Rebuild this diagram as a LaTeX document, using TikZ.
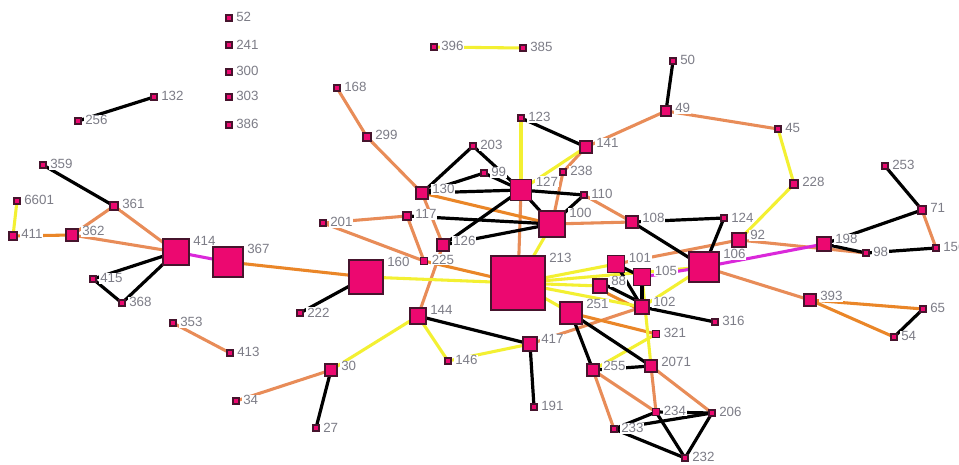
\documentclass[tikz,border=0pt]{standalone}
\usepackage{fontspec}
\setmainfont{Liberation Sans}
\pgfdeclarelayer{back}
\pgfdeclarelayer{bg}
\pgfsetlayers{back,bg,main}
\definecolor{pk}{RGB}{236,8,112}
\definecolor{bd}{RGB}{70,20,45}
\definecolor{cY}{RGB}{243,240,50}
\definecolor{cO}{RGB}{232,140,88}
\definecolor{cD}{RGB}{234,134,40}
\definecolor{cM}{RGB}{218,40,218}
\definecolor{tx}{RGB}{125,125,135}
\begin{document}
\begin{tikzpicture}[x=0.75pt,y=-0.75pt,
  nd/.style={rectangle, fill=pk, draw=bd, line width=0.8pt, inner sep=0pt, minimum size={(#1)*0.75pt}},
  lab/.style={anchor=west, xshift=2pt, yshift=-2.2pt, fill=white, inner sep=0.6pt, text=tx, font=\fontsize{10}{11}\selectfont},
  eK/.style={draw=black, line width=2.4pt},
  eO/.style={draw=cO, line width=2.3pt},
  eD/.style={draw=cD, line width=2.3pt},
  eY/.style={draw=cY, line width=2.3pt},
  eM/.style={draw=cM, line width=2.3pt}]
\begin{pgfonlayer}{back}
\fill[white] (0,0) rectangle (959,464);
\end{pgfonlayer}
\useasboundingbox (0,0) rectangle (959,464);
% nodes
\node[nd=6,label={[lab]north east:52}] (n52) at (229,18) {};
\node[nd=6,label={[lab]north east:241}] (n241) at (229,45) {};
\node[nd=6,label={[lab]north east:300}] (n300) at (229,72) {};
\node[nd=6,label={[lab]north east:303}] (n303) at (229,97) {};
\node[nd=6,label={[lab]north east:386}] (n386) at (229,125) {};
\node[nd=6,label={[lab]north east:132}] (n132) at (154,97) {};
\node[nd=6,label={[lab]north east:256}] (n256) at (78,121) {};
\node[nd=6,label={[lab]north east:396}] (n396) at (434,47) {};
\node[nd=6,label={[lab]north east:385}] (n385) at (523,48) {};
\node[nd=6,label={[lab]north east:168}] (n168) at (337,88) {};
\node[nd=8,label={[lab]north east:299}] (n299) at (367,137) {};
\node[nd=6,label={[lab]north east:50}] (n50) at (673,61) {};
\node[nd=10,label={[lab]north east:49}] (n49) at (666,111) {};
\node[nd=6,label={[lab]north east:45}] (n45) at (778,129) {};
\node[nd=8,label={[lab]north east:228}] (n228) at (794,184) {};
\node[nd=6,label={[lab]north east:253}] (n253) at (885,166) {};
\node[nd=8,label={[lab]north east:71}] (n71) at (922,210) {};
\node[nd=6,label={[lab]north east:156}] (n156) at (936,248) {};
\node[nd=6,label={[lab]north east:98}] (n98) at (866,253) {};
\node[nd=14,label={[lab]north east:198}] (n198) at (824,244) {};
\node[nd=12,label={[lab]north east:393}] (n393) at (810,300) {};
\node[nd=6,label={[lab]north east:65}] (n65) at (923,309) {};
\node[nd=6,label={[lab]north east:54}] (n54) at (894,337) {};
\node[nd=6,label={[lab]north east:316}] (n316) at (715,322) {};
\node[nd=6,label={[lab]north east:359}] (n359) at (43,165) {};
\node[nd=8,label={[lab]north east:361}] (n361) at (114,206) {};
\node[nd=6,label={[lab]north east:6601}] (n6601) at (17,201) {};
\node[nd=8,label={[lab]north east:411}] (n411) at (13,236) {};
\node[nd=12,label={[lab]north east:362}] (n362) at (72,235) {};
\node[nd=26,label={[lab]north east:414}] (n414) at (176,252) {};
\node[nd=30,label={[lab]north east:367}] (n367) at (228,262) {};
\node[nd=6,label={[lab]north east:415}] (n415) at (93,279) {};
\node[nd=6,label={[lab]north east:368}] (n368) at (122,303) {};
\node[nd=6,label={[lab]north east:353}] (n353) at (173,323) {};
\node[nd=6,label={[lab]north east:413}] (n413) at (230,353) {};
\node[nd=6,label={[lab]north east:222}] (n222) at (300,313) {};
\node[nd=34,label={[lab]north east:160}] (n160) at (366,277) {};
\node[nd=6,label={[lab]north east:34}] (n34) at (236,401) {};
\node[nd=12,label={[lab]north east:30}] (n30) at (331,370) {};
\node[nd=6,label={[lab]north east:27}] (n27) at (316,428) {};
\node[nd=16,label={[lab]north east:144}] (n144) at (418,316) {};
\node[nd=6,label={[lab]north east:146}] (n146) at (448,361) {};
\node[nd=14,label={[lab]north east:417}] (n417) at (530,344) {};
\node[nd=6,label={[lab]north east:191}] (n191) at (534,407) {};
\node[nd=7,label={[lab]north east:225}] (n225) at (424,261) {};
\node[nd=8,label={[lab]north east:117}] (n117) at (407,216) {};
\node[nd=6,label={[lab]north east:201}] (n201) at (323,223) {};
\node[nd=12,label={[lab]north east:130}] (n130) at (422,193) {};
\node[nd=6,label={[lab]north east:203}] (n203) at (473,146) {};
\node[nd=6,label={[lab]north east:99}] (n99) at (484,173) {};
\node[nd=12,label={[lab]north east:126}] (n126) at (443,245) {};
\node[nd=6,label={[lab]north east:123}] (n123) at (521,118) {};
\node[nd=12,label={[lab]north east:141}] (n141) at (586,147) {};
\node[nd=21,label={[lab]north east:127}] (n127) at (521,190) {};
\node[nd=6,label={[lab]north east:238}] (n238) at (563,172) {};
\node[nd=6,label={[lab]north east:110}] (n110) at (584,195) {};
\node[nd=26,label={[lab]north east:100}] (n100) at (552,224) {};
\node[nd=54,label={[lab]north east:213}] (n213) at (518,283) {};
\node[nd=12,label={[lab]north east:108}] (n108) at (632,222) {};
\node[nd=6,label={[lab]north east:124}] (n124) at (724,218) {};
\node[nd=14,label={[lab]north east:92}] (n92) at (739,240) {};
\node[nd=30,label={[lab]north east:106}] (n106) at (704,267) {};
\node[nd=17,label={[lab]north east:101}] (n101) at (616,264) {};
\node[nd=17,label={[lab]north east:105}] (n105) at (642,277) {};
\node[nd=14,label={[lab]north east:88}] (n88) at (600,286) {};
\node[nd=14,label={[lab]north east:102}] (n102) at (642,307) {};
\node[nd=22,label={[lab]north east:251}] (n251) at (571,313) {};
\node[nd=7,label={[lab]north east:321}] (n321) at (656,334) {};
\node[nd=12,label={[lab]north east:255}] (n255) at (593,370) {};
\node[nd=12,label={[lab]north east:2071}] (n2071) at (651,366) {};
\node[nd=7,label={[lab]north east:234}] (n234) at (656,412) {};
\node[nd=6,label={[lab]north east:206}] (n206) at (712,413) {};
\node[nd=6,label={[lab]north east:233}] (n233) at (614,429) {};
\node[nd=6,label={[lab]north east:232}] (n232) at (685,458) {};
% edges
\begin{pgfonlayer}{bg}
% orange (salmon)
\draw[eO] (n361.center)--(n414.center);
\draw[eO] (n361.center)--(n362.center);
\draw[eO] (n362.center)--(n414.center);
\draw[eO] (n353.center)--(n413.center);
\draw[eO] (n30.center)--(n34.center);
\draw[eO] (n168.center)--(n299.center);
\draw[eO] (n299.center)--(n130.center);
\draw[eO] (n130.center)--(n126.center);
\draw[eO] (n126.center)--(n144.center);
\draw[eO] (n117.center)--(n201.center);
\draw[eO] (n117.center)--(n225.center);
\draw[eO] (n201.center)--(n225.center);
\draw[eO] (n141.center)--(n49.center);
\draw[eO] (n49.center)--(n45.center);
\draw[eO] (n141.center)--(n238.center);
\draw[eO] (n238.center)--(n100.center);
\draw[eO] (n110.center)--(n108.center);
\draw[eO] (n100.center)--(n108.center);
\draw[eO] (n127.center)--(n213.center);
\draw[eO] (n101.center)--(n92.center);
\draw[eO] (n92.center)--(n98.center);
\draw[eO] (n71.center)--(n156.center);
\draw[eO] (n106.center)--(n393.center);
\draw[eO] (n255.center)--(n234.center);
\draw[eO] (n255.center)--(n233.center);
\draw[eO] (n2071.center)--(n234.center);
\draw[eO] (n2071.center)--(n206.center);
\draw[eO] (n417.center)--(n102.center);
% orange (deep)
\draw[eD] (n411.center)--(n362.center);
\draw[eD] (n367.center)--(n160.center);
\draw[eD] (n130.center)--(n100.center);
\draw[eD] (n225.center)--(n213.center);
\draw[eD] (n393.center)--(n65.center);
\draw[eD] (n393.center)--(n54.center);
\draw[eD] (n251.center)--(n321.center);
\draw[eD] (n88.south east)--(n102.west);
% yellow
\draw[eY] (n6601.center)--(n411.center);
\draw[eY] (n396.center)--(n385.center);
\draw[eY] (n213.center)--(n160.center);
\draw[eY] (n213.center)--(n101.center);
\draw[eY] (n213.center)--(n88.center);
\draw[eY] (n213.center)--(n102.center);
\draw[eY] (n213.center)--(n106.center);
\draw[eY] (n213.center)--(n251.center);
\draw[eY] (n213.center)--(n100.center);
\draw[eY] (n123.center)--(n127.center);
\draw[eY] (n141.center)--(n127.center);
\draw[eY] (n144.center)--(n30.center);
\draw[eY] (n144.center)--(n146.center);
\draw[eY] (n146.center)--(n417.center);
\draw[eY] (n105.center)--(n2071.center);
\draw[eY] (n102.center)--(n106.center);
\draw[eY] (n321.center)--(n255.center);
\draw[eY] (n45.center)--(n228.center);
\draw[eY] (n228.center)--(n92.center);
% magenta
\draw[eM] (n414.center)--(n367.center);
\draw[eM] (n106.center)--(n198.center);
\draw[eM] (n105.center)--(n106.center);
% black
\draw[eK] (n132.center)--(n256.center);
\draw[eK] (n359.center)--(n361.center);
\draw[eK] (n414.center)--(n415.center);
\draw[eK] (n414.center)--(n368.center);
\draw[eK] (n415.center)--(n368.center);
\draw[eK] (n160.center)--(n222.center);
\draw[eK] (n30.center)--(n27.center);
\draw[eK] (n144.center)--(n417.center);
\draw[eK] (n417.center)--(n191.center);
\draw[eK] (n50.center)--(n49.center);
\draw[eK] (n123.center)--(n141.center);
\draw[eK] (n130.center)--(n203.center);
\draw[eK] (n203.center)--(n127.center);
\draw[eK] (n99.center)--(n130.center);
\draw[eK] (n99.center)--(n127.center);
\draw[eK] (n130.center)--(n127.center);
\draw[eK] (n126.center)--(n127.center);
\draw[eK] (n117.center)--(n100.center);
\draw[eK] (n126.center)--(n100.center);
\draw[eK] (n127.center)--(n100.center);
\draw[eK] (n127.center)--(n110.center);
\draw[eK] (n110.center)--(n100.center);
\draw[eK] (n108.center)--(n106.center);
\draw[eK] (n108.center)--(n124.center);
\draw[eK] (n124.center)--(n106.center);
\draw[eK] (n101.center)--(n105.center);
\draw[eK] (n105.center)--(n102.center);
\draw[eK] (n88.east)--(n102.north west);
\draw[eK] (n101.center)--(n102.center);
\draw[eK] (n102.center)--(n316.center);
\draw[eK] (n251.center)--(n255.center);
\draw[eK] (n251.center)--(n2071.center);
\draw[eK] (n255.center)--(n2071.center);
\draw[eK] (n233.center)--(n234.center);
\draw[eK] (n233.center)--(n206.center);
\draw[eK] (n234.center)--(n206.center);
\draw[eK] (n234.center)--(n232.center);
\draw[eK] (n233.center)--(n232.center);
\draw[eK] (n206.center)--(n232.center);
\draw[eK] (n253.center)--(n71.center);
\draw[eK] (n71.center)--(n198.center);
\draw[eK] (n198.center)--(n98.center);
\draw[eK] (n98.center)--(n156.center);
\draw[eK] (n65.center)--(n54.center);
\end{pgfonlayer}
\end{tikzpicture}
\end{document}
